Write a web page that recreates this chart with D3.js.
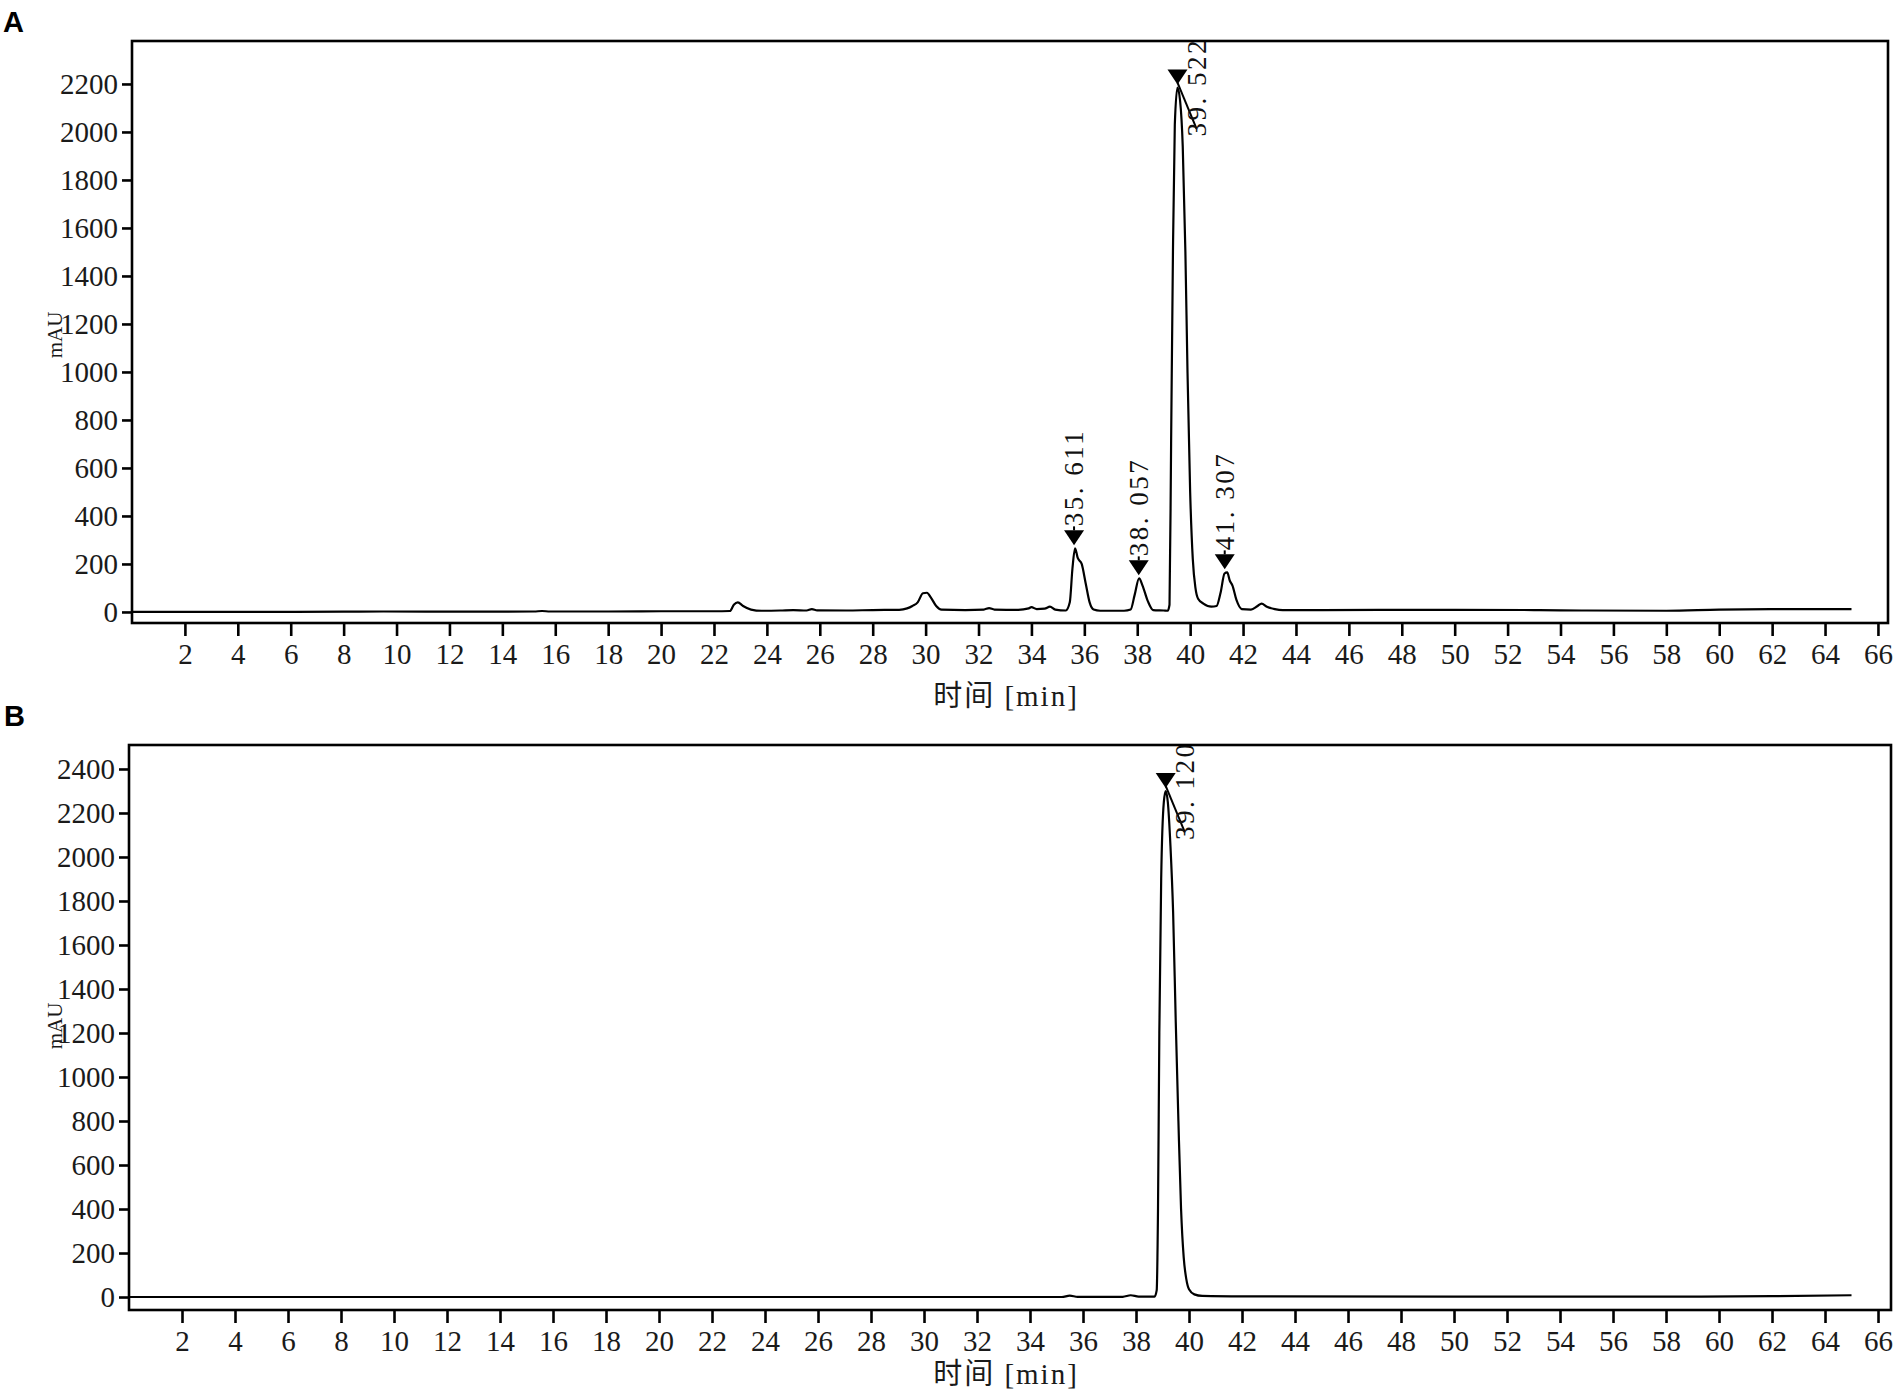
<!DOCTYPE html>
<html>
<head>
<meta charset="utf-8">
<script src="https://cdn.jsdelivr.net/npm/d3@7/dist/d3.min.js"></script>
<style>
  html, body { margin: 0; padding: 0; background: #fff; }
  svg { display: block; }
</style>
</head>
<body>
<svg id="chart" width="1904" height="1400"></svg>
<script>
// ---------------- DATA ----------------
const xTicks = [2,4,6,8,10,12,14,16,18,20,22,24,26,28,30,32,34,36,38,40,42,44,46,48,50,52,54,56,58,60,62,64,66];
const yTicksA = [0,200,400,600,800,1000,1200,1400,1600,1800,2000,2200];
const yTicksB = [0,200,400,600,800,1000,1200,1400,1600,1800,2000,2200,2400];
const xTitle = "时间 [min]";
const yTitle = "mAU";

// Chromatogram A: retention time (min), absorbance (mAU)
const timeA = [0,2,5,8,9.5,12,15.2,15.5,15.8,18,20,22.0,22.6,22.75,22.9,23.1,23.4,23.8,24.5,25.0,25.5,25.7,25.9,27,28,29.0,29.3,29.5,29.7,29.9,30.05,30.2,30.4,30.6,31.5,32.2,32.4,32.6,33.5,33.9,34.0,34.2,34.5,34.7,34.9,35.3,35.45,35.55,35.65,35.75,35.9,36.05,36.2,36.35,36.6,37.5,37.75,37.9,38.07,38.2,38.4,38.6,39.0,39.15,39.22,39.28,39.35,39.42,39.52,39.62,39.72,39.82,39.9,40.0,40.1,40.2,40.3,40.5,40.8,41.0,41.15,41.3,41.4,41.5,41.6,41.75,41.95,42.3,42.55,42.7,42.9,43.2,43.5,45,48,50,53,55,58,60,62,65];
const mauA  = [0,0,0,1,2,1,2,4,2,2,3,3,4,30,40,25,10,5,6,8,6,12,7,6,8,9,15,25,40,78,80,60,25,10,8,10,16,10,9,15,20,12,14,22,10,6,40,180,265,225,200,120,40,10,5,5,10,70,140,110,45,8,6,5,30,700,1500,2030,2185,2130,1940,1500,1000,500,220,100,55,35,22,25,80,160,165,130,110,50,12,10,25,35,22,12,8,8,9,9,8,6,5,10,12,12];
const peakTimesA = [35.611, 38.057, 39.522, 41.307];
const peakMauA   = [265, 140, 2185, 165];
const peakLabelsA = ["35. 611", "38. 057", "39. 522", "41. 307"];

// Chromatogram B
const timeB = [0,10,20,30,35.2,35.5,35.8,37.5,37.8,38.1,38.7,38.78,38.83,38.88,38.95,39.05,39.12,39.2,39.3,39.4,39.5,39.6,39.7,39.8,39.9,40.0,40.2,40.5,42,50,58,62,65];
const mauB  = [0,0,0,0,0,6,1,1,8,2,2,30,400,1200,1900,2250,2300,2250,2050,1750,1250,800,400,180,80,35,12,5,3,2,2,4,8];
const peakTimesB = [39.12];
const peakMauB   = [2300];
const peakLabelsB = ["39. 120"];

// ---------------- DRAWING ----------------
const svg = d3.select("#chart");
svg.append("rect").attr("width",1904).attr("height",1400).attr("fill","#fff");

const serif = "'Liberation Serif', 'DejaVu Serif', serif";
const cjk = "'Liberation Serif', 'Noto Sans CJK SC', serif";

function drawPanel(cfg) {
  const g = svg.append("g");
  const x = d3.scaleLinear().domain(cfg.xDomain).range([cfg.left, cfg.right]);
  const y = d3.scaleLinear().domain(cfg.yDomain).range([cfg.bottom, cfg.top]);

  const clipId = "clip" + cfg.letter;
  svg.append("clipPath").attr("id", clipId)
    .append("rect").attr("x", cfg.left).attr("y", cfg.top)
    .attr("width", cfg.right - cfg.left).attr("height", cfg.bottom - cfg.top);

  // panel letter
  g.append("text").attr("x", cfg.letterX).attr("y", cfg.letterY)
    .attr("font-family","'Liberation Sans', Arial, sans-serif")
    .attr("font-weight","bold").attr("font-size",29).attr("fill","#000")
    .text(cfg.letter);

  // trace
  const pts = cfg.time.map((t,i)=>[t, cfg.mau[i]]);
  const line = d3.line().x(d=>x(d[0])).y(d=>y(d[1])).curve(d3.curveMonotoneX);
  g.append("path").datum(pts).attr("d", line)
    .attr("fill","none").attr("stroke","#000").attr("stroke-width",2.2)
    .attr("stroke-linejoin","round")
    .attr("clip-path", `url(#${clipId})`);

  // peak markers
  const mk = g.append("g").attr("clip-path", `url(#${clipId})`);
  cfg.peakTimes.forEach((t,i)=>{
    const px = x(t), py = y(cfg.peakMau[i]) - 3;
    const tw = 10, th = 15;
    mk.append("path")
      .attr("d", `M${px-tw},${py-th}L${px+tw},${py-th}L${px},${py}Z`)
      .attr("fill","#000");
    const labelLen = 100;
    let lx, ly;
    if (py - th - 4 - labelLen < cfg.top) {
      // too tall: label offset to the right with a leader line
      lx = px + 19; ly = py + 52;
      mk.append("line").attr("x1",px).attr("y1",py-2).attr("x2",lx).attr("y2",ly-8)
        .attr("stroke","#000").attr("stroke-width",2);
    } else {
      lx = px; ly = py - th - 4;
      mk.append("line").attr("x1",px).attr("y1",py-th).attr("x2",px).attr("y2",ly)
        .attr("stroke","#000").attr("stroke-width",2);
    }
    mk.append("text")
      .attr("transform", `translate(${lx},${ly}) rotate(-90)`)
      .attr("dy","0.35em")
      .attr("font-family", serif).attr("font-size",27)
      .attr("letter-spacing", 2.5)
      .attr("fill","#111")
      .text(cfg.peakLabels[i]);
  });

  // frame
  g.append("rect").attr("x",cfg.left).attr("y",cfg.top)
    .attr("width",cfg.right-cfg.left).attr("height",cfg.bottom-cfg.top)
    .attr("fill","none").attr("stroke","#000").attr("stroke-width",2.6);

  // axes
  const yAxis = d3.axisLeft(y).tickValues(cfg.yTicks).tickSize(10).tickPadding(4).tickFormat(d3.format("d"));
  const ya = g.append("g").attr("transform",`translate(${cfg.left},0)`).call(yAxis);
  ya.select(".domain").remove();
  ya.selectAll(".tick line").attr("stroke","#000").attr("stroke-width",2.6);
  ya.selectAll(".tick text").attr("font-family",serif).attr("font-size",29).attr("fill","#1a1a1a");

  const xAxis = d3.axisBottom(x).tickValues(xTicks).tickSize(13).tickPadding(7).tickFormat(d3.format("d"));
  const xa = g.append("g").attr("transform",`translate(0,${cfg.bottom})`).call(xAxis);
  xa.select(".domain").remove();
  xa.selectAll(".tick line").attr("stroke","#000").attr("stroke-width",2.6);
  xa.selectAll(".tick text").attr("font-family",serif).attr("font-size",29).attr("fill","#1a1a1a");

  // titles
  g.append("text").attr("x", cfg.xTitleX).attr("y", cfg.xTitleY)
    .attr("text-anchor","middle").attr("dy","0.35em")
    .attr("font-family",cjk).attr("font-size",29).attr("letter-spacing",2)
    .attr("fill","#1a1a1a")
    .text(xTitle);
  g.append("text")
    .attr("transform",`translate(${cfg.yTitleX},${cfg.yTitleY}) rotate(-90)`)
    .attr("text-anchor","middle").attr("dy","0.35em")
    .attr("font-family",serif).attr("font-size",21).attr("fill","#1a1a1a")
    .text(yTitle);
}

drawPanel({
  letter:"A", letterX:3, letterY:32,
  left:132, right:1888, top:41, bottom:623,
  xDomain:[0, 66.38], yDomain:[-46, 2379],
  yTicks:yTicksA,
  time:timeA, mau:mauA,
  peakTimes:peakTimesA, peakMau:peakMauA, peakLabels:peakLabelsA,
  xTitleX:1006, xTitleY:696, yTitleX:55, yTitleY:335
});

drawPanel({
  letter:"B", letterX:4, letterY:726,
  left:129, right:1891, top:745, bottom:1310,
  xDomain:[0, 66.49], yDomain:[-59, 2509],
  yTicks:yTicksB,
  time:timeB, mau:mauB,
  peakTimes:peakTimesB, peakMau:peakMauB, peakLabels:peakLabelsB,
  xTitleX:1006, xTitleY:1374, yTitleX:55, yTitleY:1026
});
</script>
</body>
</html>
